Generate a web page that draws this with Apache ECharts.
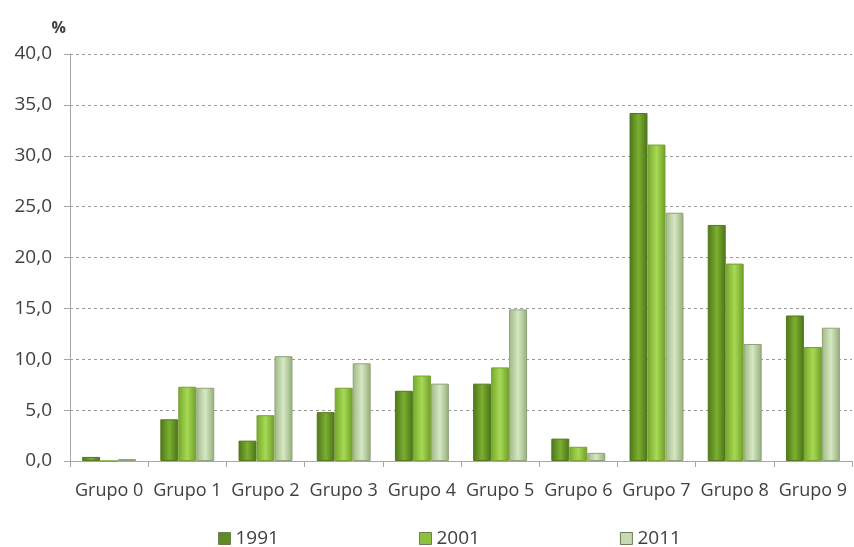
<!DOCTYPE html>
<html><head><meta charset="utf-8">
<script src="https://cdn.jsdelivr.net/npm/echarts@6/dist/echarts.min.js"></script>
<style>html,body{margin:0;padding:0;background:#fff}#c{width:854px;height:547px}</style>
</head><body><div id="c"></div>
<script>
const categories = ['Grupo 0','Grupo 1','Grupo 2','Grupo 3','Grupo 4','Grupo 5','Grupo 6','Grupo 7','Grupo 8','Grupo 9'];
const seriesNames = ['1991','2001','2011'];
const v1991 = [0.4, 4.1, 2.0, 4.8, 6.9, 7.6, 2.2, 34.2, 23.2, 14.3];
const v2001 = [0.0, 7.3, 4.5, 7.2, 8.4, 9.2, 1.4, 31.1, 19.4, 11.2];
const v2011 = [0.2, 7.2, 10.3, 9.6, 7.6, 14.9, 0.8, 24.4, 11.5, 13.1];
const yTicks = [0,5,10,15,20,25,30,35,40];

function grad(l,c,r){return new echarts.graphic.LinearGradient(0,0,1,0,[{offset:0,color:l},{offset:0.5,color:c},{offset:1,color:r}]);}
const styles = [
  {color: grad('#4b7619','#7caf31','#4a7317'), borderColor:'#55781f'},
  {color: grad('#72a92b','#a8d955','#6c9e27'), borderColor:'#7aa033'},
  {color: grad('#9fb883','#d6e7c4','#93ad77'), borderColor:'#8fa37a'}
];
const legendColors = ['#5e8c22','#8cc23d','#c6d9b2'];
const data = [v1991, v2001, v2011];
const chart = echarts.init(document.getElementById('c'));
chart.setOption({
  animation:false,
  textStyle:{fontFamily:'Open Sans'},
  grid:{left:70,right:2,top:54,bottom:86},
  legend:{top:524,left:213,itemGap:140,itemWidth:12,itemHeight:12,icon:'rect',
    textStyle:{fontSize:19,color:'#404040',fontFamily:'Open Sans'},
    data: seriesNames.map((n,i)=>({name:n,itemStyle:{color:legendColors[i],borderColor:'#6b7d55',borderWidth:1}}))},
  xAxis:{type:'category',data:categories,
    axisLine:{lineStyle:{color:'#a6a6a6'}},
    axisTick:{show:true,alignWithLabel:false,length:6,lineStyle:{color:'#a6a6a6'}},
    axisLabel:{fontSize:18,color:'#404040',margin:21,interval:0}},
  yAxis:{type:'value',min:0,max:40,interval:5,
    name:'%',nameLocation:'end',nameGap:18,nameTextStyle:{fontSize:16,color:'#404040',align:'right',padding:[0,4,0,0],fontWeight:'bold'},
    axisLine:{show:true,lineStyle:{color:'#a6a6a6'}},
    axisTick:{show:true,length:6,lineStyle:{color:'#a6a6a6'}},
    splitLine:{lineStyle:{type:[3,3],color:'#9a9a9a'}},
    axisLabel:{fontSize:19,color:'#404040',margin:18,formatter:v=>v.toFixed(1).replace('.',',')}},
  series: seriesNames.map((n,i)=>({name:n,type:'bar',data:data[i],barGap:'0%',barCategoryGap:'31%',
    itemStyle:Object.assign({borderWidth:1},styles[i])}))
});
</script></body></html>
